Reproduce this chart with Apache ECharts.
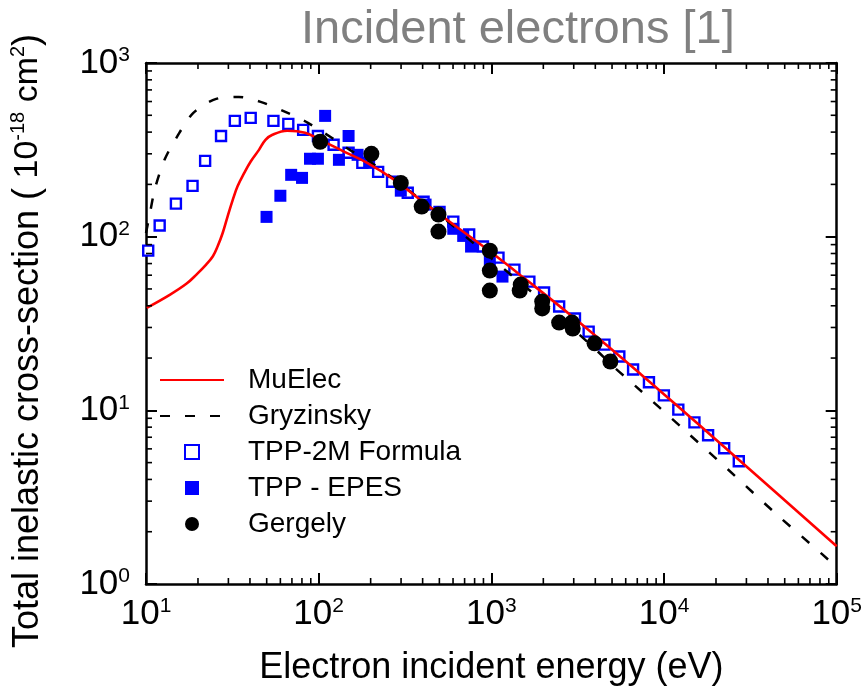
<!DOCTYPE html>
<html>
<head>
<meta charset="utf-8">
<script src="https://cdn.jsdelivr.net/npm/echarts@6/dist/echarts.min.js"></script>
<style>
  html, body { margin: 0; padding: 0; background: #fff; }
  #chart { width: 865px; height: 691px; }
</style>
</head>
<body>
<div id="chart"></div>
<script>
// Total inelastic cross-section (10^-18 cm^2) versus electron energy (eV)

const muElecEnergy = [10.1, 13.8, 17.2, 19.6, 22.3, 24.4, 26.0, 27.8, 29.7, 31.8, 33.9, 37.0, 40.4, 45.1, 49.2, 54, 65.8, 83.4, 102, 141, 191, 273, 400, 579, 1000, 1510, 2920, 7360, 15000, 31300, 100000];
const muElecSigma  = [38.9, 46.4, 53.7, 60.5, 69.0, 77.1, 88.0, 105, 131, 163, 195, 232, 271, 316, 361, 386, 407, 396, 361, 308, 266, 213, 159, 121, 81, 58.9, 34.9, 16.1, 8.7, 4.58, 1.65];

const gryzinskyEnergy = [10, 10.5, 11.3, 12.8, 15, 18.8, 25.5, 34.5, 46.1, 64.1, 86.7, 119, 150, 200, 300, 500, 1000, 2000, 4000, 5150, 6890, 12800, 23400, 43500, 82000, 100000];
const gryzinskySigma  = [105, 134, 191, 277, 371, 516, 621, 638, 597, 523, 452, 371, 318, 268, 200, 134, 75, 42, 22.5, 17.7, 13.7, 7.88, 4.58, 2.59, 1.49, 1.25];

const tpp2mEnergy = [10.3, 12.0, 14.9, 18.6, 22.0, 27.2, 32.7, 40.4, 54.7, 66.7, 81.3, 99, 122, 149, 179, 221, 266, 328, 405, 501, 602, 744, 894, 1100, 1360, 1660, 2020, 2470, 3050, 3660, 4520, 5510, 6620, 8180, 9980, 12100, 15000, 18000, 22300, 27100];
const tpp2mSigma  = [83.1, 116, 155, 196, 273, 380, 464, 483, 464, 446, 412, 380, 338, 304, 266, 236, 207, 179, 159, 139, 122, 103, 87.7, 75.7, 64.6, 55.1, 47.7, 39.6, 33.8, 28.4, 23.9, 20.4, 17.2, 14.5, 12.2, 10.1, 8.53, 7.18, 6.05, 5.09];

const epesEnergy = [49.9, 60.0, 69.3, 80.1, 89.1, 99, 109, 131, 149, 168, 196, 299, 416, 602, 687, 763, 980, 1160];
const epesSigma  = [130, 172, 227, 218, 281, 281, 496, 277, 380, 296, 266, 184, 153, 111, 101, 87.7, 73.8, 58.9];

const gergelyEnergy = [102, 202, 299, 395, 494, 494, 980, 980, 980, 1480, 1460, 1970, 1970, 2470, 2930, 2960, 3960, 4890];
const gergelySigma  = [352, 300, 204, 149, 134, 107, 83.1, 63.8, 48.9, 53.0, 48.9, 42.3, 38.6, 32.0, 32.0, 29.6, 24.3, 19.1];

const seriesNames = ['MuElec', 'Gryzinsky', 'TPP-2M Formula', 'TPP - EPES', 'Gergely'];
const lineSeriesNames = ['MuElec', 'Gryzinsky'];

const xRange = [10, 100000];
const yRange = [1, 1000];

const FONT = 'Liberation Sans, Arial, sans-serif';

const pairs = (xs, ys) => xs.map((x, i) => [x, ys[i]]);

// minor tick positions 2..9 in each decade
function minorValues(lo, hi) {
  const out = [];
  for (let d = Math.round(Math.log10(lo)); d < Math.round(Math.log10(hi)); d++) {
    for (let k = 2; k <= 9; k++) out.push(k * Math.pow(10, d));
  }
  return out;
}

const powerLabel = v => '{b|10}{s|' + Math.round(Math.log10(v)) + '}';
const powerRich = {
  b: { fontSize: 35, fontFamily: FONT, color: '#000', lineHeight: 36 },
  s: { fontSize: 21, fontFamily: FONT, color: '#000', verticalAlign: 'top', lineHeight: 22 }
};

const baseAxis = {
  type: 'log',
  logBase: 10,
  interval: 1,
  axisLine: { show: true, lineStyle: { color: '#000', width: 2.5 } },
  axisTick: { show: true, inside: true, length: 11, lineStyle: { color: '#000', width: 2 } },
  splitLine: { show: false },
  minorTick: { show: false },
  minorSplitLine: { show: false }
};

const xMinor = minorValues(xRange[0], xRange[1]).map(v => [v, yRange[0]]);
const yMinor = minorValues(yRange[0], yRange[1]).map(v => [xRange[0], v]);

const minorLen = 6;
function xMinorTicks(params, api) {
  const cs = params.coordSys;
  const x = api.coord([api.value(0), yRange[0]])[0];
  const yb = cs.y + cs.height, yt = cs.y;
  return {
    type: 'group',
    children: [
      { type: 'line', shape: { x1: x, y1: yb, x2: x, y2: yb - minorLen }, style: { stroke: '#000', lineWidth: 1.6 } },
      { type: 'line', shape: { x1: x, y1: yt, x2: x, y2: yt + minorLen }, style: { stroke: '#000', lineWidth: 1.6 } }
    ]
  };
}
function yMinorTicks(params, api) {
  const cs = params.coordSys;
  const y = api.coord([xRange[0], api.value(1)])[1];
  const xl = cs.x, xr = cs.x + cs.width;
  return {
    type: 'group',
    children: [
      { type: 'line', shape: { x1: xl, y1: y, x2: xl + minorLen, y2: y }, style: { stroke: '#000', lineWidth: 1.6 } },
      { type: 'line', shape: { x1: xr, y1: y, x2: xr - minorLen, y2: y }, style: { stroke: '#000', lineWidth: 1.6 } }
    ]
  };
}

const squarePath = 'path://M0 0H10V10H0Z';

const chart = echarts.init(document.getElementById('chart'), null, { renderer: 'canvas' });

chart.setOption({
  animation: false,
  backgroundColor: '#fff',
  title: {
    text: 'Incident electrons [1]',
    left: 296,
    top: 2,
    textStyle: { fontSize: 47, fontWeight: 'normal', color: '#808080', fontFamily: FONT }
  },
  grid: { left: 139, right: 27, top: 63, bottom: 106, containLabel: false },
  legend: {
    orient: 'vertical',
    left: 154,
    top: 357,
    itemWidth: 64,
    itemHeight: 14,
    itemGap: 0,
    selectedMode: false,
    // line entries show only their stroke, no marker
    data: seriesNames.map(n => lineSeriesNames.includes(n) ? { name: n, itemStyle: { opacity: 0 } } : { name: n }),
    textStyle: { fontSize: 28, color: '#000', fontFamily: FONT, lineHeight: 36, padding: [0, 0, 0, 19] }
  },
  xAxis: [
    Object.assign({}, baseAxis, {
      min: xRange[0], max: xRange[1], position: 'bottom',
      axisLabel: { show: true, margin: 12, formatter: powerLabel, rich: powerRich },
      name: 'Electron incident energy (eV)',
      nameLocation: 'middle',
      nameGap: 66,
      nameTextStyle: { fontSize: 36, color: '#000', fontFamily: FONT }
    }),
    Object.assign({}, baseAxis, {
      min: xRange[0], max: xRange[1], position: 'top',
      axisLabel: { show: false }
    })
  ],
  yAxis: [
    Object.assign({}, baseAxis, {
      min: yRange[0], max: yRange[1], position: 'left',
      axisLabel: { show: true, margin: 16, formatter: powerLabel, rich: powerRich },
      name: '{m|Total inelastic cross-section (}{u| 10}{p|-18}{u| cm}{p|2}{m|)}',
      nameLocation: 'middle',
      nameRotate: 90,
      nameGap: 98,
      nameTextStyle: {
        fontSize: 36, color: '#000', fontFamily: FONT,
        padding: [0, 35, 0, 0],
        rich: {
          m: { fontSize: 36, fontFamily: FONT, color: '#000', lineHeight: 40 },
          u: { fontSize: 34, fontFamily: FONT, color: '#000', lineHeight: 40 },
          p: { fontSize: 20, fontFamily: FONT, color: '#000', verticalAlign: 'top', lineHeight: 24 }
        }
      }
    }),
    Object.assign({}, baseAxis, {
      min: yRange[0], max: yRange[1], position: 'right',
      axisLabel: { show: false }
    })
  ],
  series: [
    {
      name: 'TPP-2M Formula',
      type: 'scatter',
      data: pairs(tpp2mEnergy, tpp2mSigma),
      symbol: squarePath,
      symbolSize: 10,
      itemStyle: { color: '#fff', borderColor: '#0000ff', borderWidth: 2.4, opacity: 1 },
      z: 3
    },
    {
      name: 'TPP - EPES',
      type: 'scatter',
      data: pairs(epesEnergy, epesSigma),
      symbol: squarePath,
      symbolSize: 12,
      itemStyle: { color: '#0000ff', opacity: 1 },
      z: 4
    },
    {
      name: 'Gryzinsky',
      type: 'line',
      data: pairs(gryzinskyEnergy, gryzinskySigma),
      showSymbol: false,
      symbol: 'none',
      smooth: 0.3,
      lineStyle: { color: '#000', width: 2.5, type: [10, 15] },
      itemStyle: { color: '#000' },
      z: 5
    },
    {
      name: 'MuElec',
      type: 'line',
      data: pairs(muElecEnergy, muElecSigma),
      showSymbol: false,
      symbol: 'none',
      smooth: 0.4,
      lineStyle: { color: '#ff0000', width: 2.6 },
      itemStyle: { color: '#ff0000' },
      z: 6
    },
    {
      name: 'Gergely',
      type: 'scatter',
      data: pairs(gergelyEnergy, gergelySigma),
      symbol: 'circle',
      symbolSize: 16,
      itemStyle: { color: '#000', opacity: 1 },
      z: 7
    },
    {
      type: 'custom',
      silent: true,
      xAxisIndex: 0, yAxisIndex: 0,
      data: xMinor,
      renderItem: xMinorTicks,
      z: 10
    },
    {
      type: 'custom',
      silent: true,
      xAxisIndex: 0, yAxisIndex: 0,
      data: yMinor,
      renderItem: yMinorTicks,
      z: 10
    }
  ]
});
</script>
</body>
</html>
